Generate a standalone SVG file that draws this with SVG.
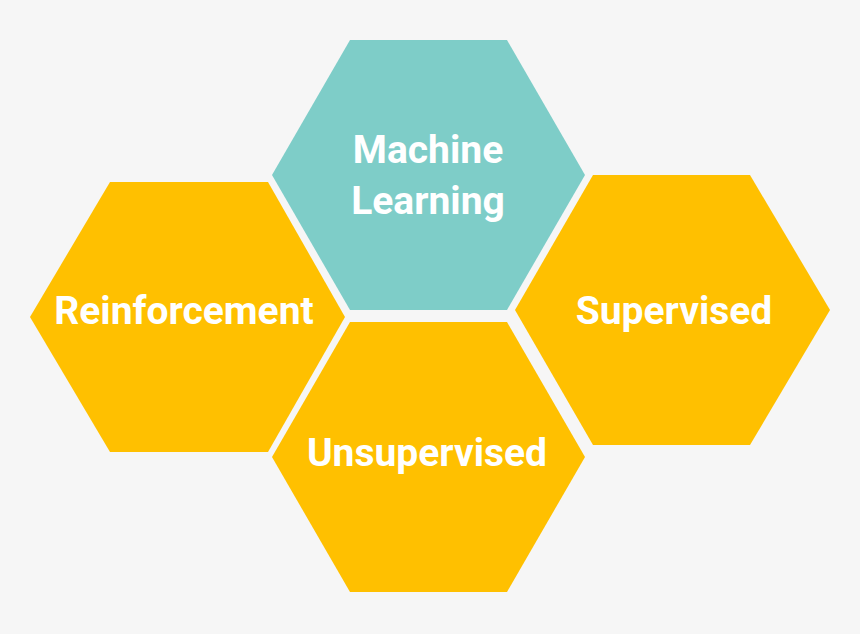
<svg xmlns="http://www.w3.org/2000/svg" width="860" height="634" viewBox="0 0 860 634">
<style>
.y{fill:#FFC000}.t{fill:#7ECDC8}
text{font-family:Roboto,"Liberation Sans",sans-serif;font-weight:bold;font-size:39px;fill:#fff;text-anchor:middle}
</style>
<rect width="860" height="634" fill="#f6f6f6"/>
<g id="ml"><polygon class="t" points="350,40 507,40 585,175 507,310 350,310 272,175"/><text x="428" y="163">Machine</text><text x="428" y="214">Learning</text></g>
<g id="reinforcement"><polygon class="y" points="110,182 268,182 345,317 268,452 110,452 30,317"/><text x="184" y="324">Reinforcement</text></g>
<g id="supervised"><polygon class="y" points="593,175 750,175 830,310 750,445 593,445 515,310"/><text x="674" y="324">Supervised</text></g>
<g id="unsupervised"><polygon class="y" points="350,322 507,322 585,457 507,592 350,592 272,457"/><text x="427" y="466">Unsupervised</text></g>
<g id="connectors"/>
</svg>
